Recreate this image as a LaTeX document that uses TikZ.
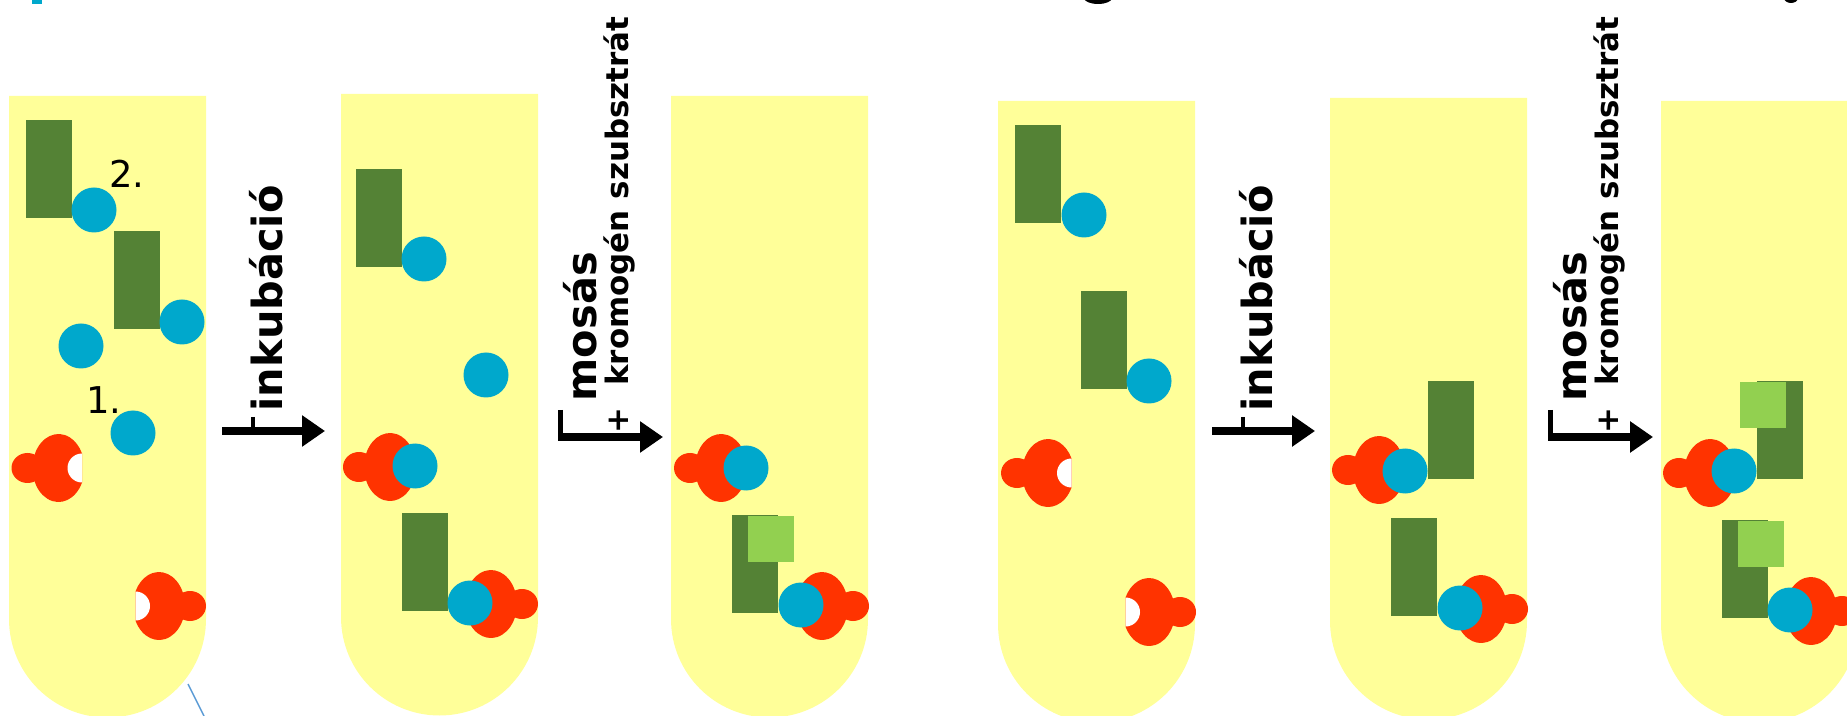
\documentclass[tikz,border=0pt]{standalone}
\usepackage{fontspec}
\setmainfont{DejaVu Sans}
\usetikzlibrary{arrows.meta}

\definecolor{tubeyellow}{RGB}{255,255,153}
\definecolor{abgreen}{RGB}{84,130,53}
\definecolor{enzgreen}{RGB}{146,208,80}
\definecolor{ligcyan}{RGB}{0,168,204}
\definecolor{agred}{RGB}{255,51,0}
\definecolor{linkblue}{RGB}{91,155,213}

\tikzset{
  antigen/.pic={
    \fill[agred] (23.5,14.6) arc [start angle=25.4, end angle=334.6, x radius=26, y radius=34] -- cycle;
    \fill[agred] (-31,0) ellipse [x radius=16, y radius=15];
    \fill[white] (23.5,14.5) arc (90:270:14.5) -- cycle;
  },
  procarrow/.style={line width=0.8mm, -{Triangle[length=2.3mm,width=3mm]}},
  bartick/.style={line width=0.4mm},
  steplabel/.style={rotate=90, anchor=base west, inner sep=0pt,
    font=\fontsize{11.8}{14}\selectfont\bfseries},
  sublabel/.style={rotate=90, anchor=base west, inner sep=0pt,
    font=\fontsize{8.8}{10}\selectfont\bfseries},
  numlabel/.style={inner sep=0pt, font=\fontsize{10.5}{12}\selectfont}
}

\begin{document}
\begin{tikzpicture}[x=0.1mm, y=-0.1mm]
  \useasboundingbox (0,0) rectangle (1847,716);
  \clip (0,0) rectangle (1847,716);
  % what is left of the heading line
  \fill[ligcyan] (32,0) rectangle (42,4);
  \fill (1098,-2) ellipse [x radius=14, y radius=6];
  \fill (1791,-2) ellipse [x radius=7, y radius=5];
  % tubes
  \foreach \x/\t/\b in {9/96/619, 341/94/617, 671/96/619, 998/101/624, 1330/98/621, 1661/101/624}
    \fill[tubeyellow] (\x,\t) -- (\x+197,\t) -- (\x+197,\b) arc (0:180:98.5) -- cycle;
  \draw[linkblue, line width=0.15mm] (188,684) -- (204,716);
  % antibodies, with enzyme
  \foreach \x/\y in {26/120, 114/231, 356/169, 402/513, 732/515, 1015/125, 1081/291,
                     1428/381, 1391/518, 1757/381, 1722/520}
    \fill[abgreen] (\x,\y) rectangle ++(46,98);
  \foreach \x/\y in {748/516, 1740/382, 1738/521}
    \fill[enzgreen] (\x,\y) rectangle ++(46,46);
  % antigens
  \foreach \x/\y in {58.5/468, 390/467, 721/468, 1048/473, 1379/470, 1710/473}
    \pic at (\x,\y) {antigen};
  \foreach \x/\y in {159/606, 491/604, 822/606, 1149/612, 1481/609, 1811/611}
    \pic[xscale=-1] at (\x,\y) {antigen};
  % ligands
  \foreach \x/\y in {94/210, 182/322, 81/346, 133/433, 424/259, 486/375, 415/466, 470/603,
                     746/468, 801/605, 1084/215, 1149/381, 1405/471, 1460/608, 1734/471, 1790/610}
    \fill[ligcyan] (\x,\y) circle (22.5);
  \node[numlabel] (lab2) at (127,174) {2.};
  \node[numlabel] (lab1) at (104,400) {1.};
  % steps
  \foreach \s/\n in {222/1, 1212/2} {
    \draw[procarrow] (\s,431) -- ++(103,0);
    \draw[bartick] (\s+31,417) -- (\s+31,431);
    \node[steplabel] (inkub\n) at (\s+60,412) {inkubáció};
  }
  \foreach \s/\n in {558/1, 1548/2} {
    \draw[procarrow] (\s,437) -- ++(105,0);
    \draw[line width=0.5mm] (\s+2.5,410) -- (\s+2.5,437);
    \node[steplabel] (mosas\n) at (\s+38,402) {mosás};
    \node[sublabel] (krom\n) at (\s+70,434) {+\hspace{0.7em}kromogén szubsztrát};
  }
\end{tikzpicture}
\end{document}
